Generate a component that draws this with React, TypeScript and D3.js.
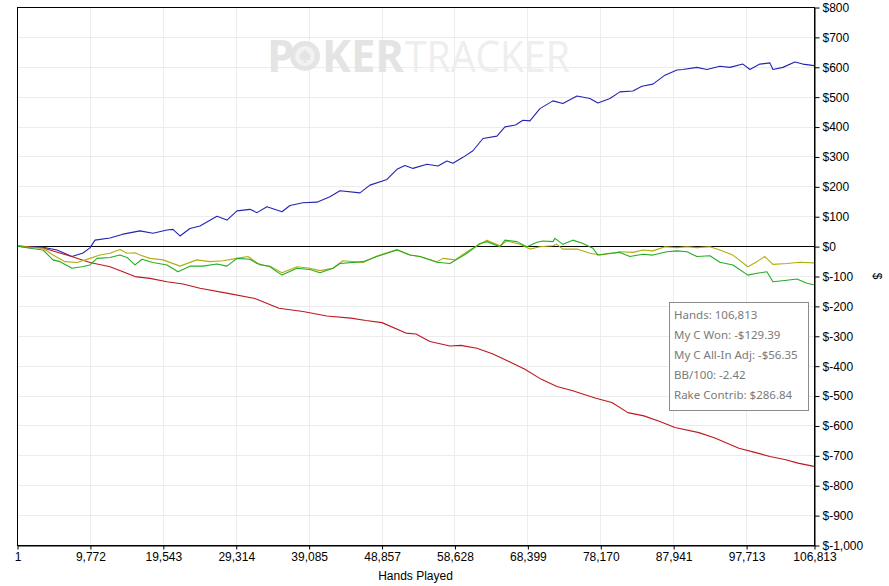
import React, { useEffect, useRef } from 'react';
import * as d3 from 'd3';

// [hands, dollars]
const netWon: [number, number][] = [
  [1, 0], [1742, -2], [3484, -4], [5360, -13], [7370, -35], [8844, -23], [9782, -6], [10452, 20],
  [12462, 27], [14204, 40], [16482, 51], [18224, 43], [20100, 54], [20904, 56], [21842, 34],
  [23182, 59], [24522, 67], [26800, 100], [28140, 87], [29480, 118], [31222, 123], [32160, 112],
  [33500, 132], [35510, 115], [36582, 136], [38324, 145], [40200, 147], [41942, 165], [43282, 185],
  [45962, 178], [47302, 204], [49580, 223], [50920, 257], [51992, 270], [53064, 260], [54940, 274],
  [56414, 268], [57620, 285], [58424, 277], [59764, 297], [61104, 319], [62444, 360], [64320, 368],
  [65392, 399], [66800, 405], [67804, 421], [68742, 419], [70082, 460], [71824, 486], [73164, 477],
  [75040, 502], [76782, 494], [77854, 479], [79462, 494], [80802, 516], [82544, 519], [83750, 535],
  [85224, 542], [86832, 572], [88440, 589], [89244, 591], [91120, 598], [92460, 591], [94202, 602],
  [95542, 598], [97284, 609], [98222, 591], [99562, 609], [100902, 613], [101304, 591], [102644, 598],
  [104252, 616], [105324, 609], [106813, 604],
];

const rake: [number, number][] = [
  [1, 0], [3484, -6], [7102, -33], [9782, -55], [12462, -69], [14204, -86], [15812, -102],
  [17822, -108], [20100, -119], [22244, -127], [24522, -141], [28274, -158], [31892, -175],
  [35108, -208], [38324, -219], [41540, -234], [44756, -241], [46766, -249], [48910, -256],
  [52126, -291], [53466, -294], [55342, -319], [58022, -334], [59496, -332], [61640, -342],
  [63784, -361], [65928, -386], [68072, -412], [70216, -445], [72360, -470], [74370, -483],
  [77586, -509], [79730, -523], [81874, -557], [84018, -568], [86162, -587], [88172, -607],
  [91388, -624], [93532, -642], [96748, -676], [98892, -690], [100902, -704], [103046, -715],
  [104654, -726], [106813, -737],
];

const allInAdj: [number, number][] = [
  [1, 0], [1742, -4], [3484, -7], [4824, -30], [6432, -52], [8040, -55], [9782, -41], [11122, -30],
  [12462, -24], [13802, -11], [14740, -24], [15812, -22], [16482, -30], [17822, -41], [19564, -46],
  [21842, -67], [24120, -46], [25862, -52], [27604, -49], [29480, -41], [30954, -35], [32562, -63],
  [33902, -67], [35510, -89], [37520, -69], [39262, -74], [40602, -82], [42344, -74], [43684, -49],
  [46364, -55], [48240, -33], [50920, -11], [52662, -30], [54002, -35], [56280, -52], [57084, -41],
  [58692, -46], [60300, -19], [62042, 6], [62980, 20], [64722, 1], [65660, 17], [67402, 6],
  [68742, -10], [70082, -2], [71824, 1], [72360, 6], [73164, -10], [75040, -10], [76782, -24],
  [78122, -30], [79864, -24], [80802, -19], [82544, -21], [83884, -13], [85224, -16], [86832, -2],
  [88440, -5], [89780, -2], [91120, -5], [92862, -2], [94202, -13], [95944, -30], [97954, -69],
  [99160, -52], [100232, -35], [101304, -61], [103180, -58], [104922, -54], [106813, -56],
];

const won: [number, number][] = [
  [1, 0], [1742, -7], [3484, -13], [4824, -46], [5762, -52], [7370, -74], [8710, -69], [9782, -63],
  [10720, -41], [12462, -38], [13802, -30], [14740, -38], [15812, -63], [16750, -44], [18224, -55],
  [20100, -63], [21574, -86], [23182, -67], [24924, -67], [26800, -60], [28140, -67], [29480, -41],
  [31222, -44], [32160, -58], [33902, -69], [35510, -97], [37520, -74], [39262, -78], [40602, -89],
  [42344, -74], [43282, -58], [46364, -52], [48240, -35], [50920, -13], [52662, -30], [54002, -35],
  [56280, -54], [58022, -58], [60300, -24], [62042, 9], [62980, 15], [64722, -2], [65392, 20],
  [67000, 15], [68340, -2], [69680, 13], [70484, 17], [71824, 15], [72092, 26], [73164, 6],
  [74504, 20], [75844, 9], [77184, -7], [77854, -30], [79462, -24], [80802, -21], [82142, -35],
  [83884, -27], [85224, -30], [87100, -19], [88440, -16], [89780, -19], [91120, -35], [92862, -32],
  [94202, -54], [95944, -63], [97954, -97], [99160, -91], [100500, -86], [101304, -119],
  [103180, -114], [104520, -110], [105860, -124], [106813, -129],
];

const xTicks = [1, 9772, 19543, 29314, 39085, 48857, 58628, 68399, 78170, 87941, 97713, 106813];
const yTicks = d3.range(-1000, 801, 100);

const summaryLines = [
  'Hands: 106,813',
  'My C Won: -$129.39',
  'My C All-In Adj: -$56.35',
  'BB/100: -2.42',
  'Rake Contrib: $286.84',
];

const series = [
  { data: netWon, color: '#2424b4' },
  { data: rake, color: '#bc1820' },
  { data: allInAdj, color: '#b2ad12' },
  { data: won, color: '#24ad24' },
];

const W = 889;
const H = 586;

const App: React.FC = () => {
  const svgRef = useRef<SVGSVGElement>(null);

  useEffect(() => {
    document.body.style.margin = '0';
    if (!svgRef.current) return;
    const svg = d3.select(svgRef.current);
    svg.selectAll('*').remove();

    const left = 17, right = 814, top = 7, bottom = 545;
    const x = d3.scaleLinear().domain([1, 106813]).range([left, right]);
    const y = d3.scaleLinear().domain([-1000, 800]).range([bottom, top]);

    svg.append('rect').attr('width', W).attr('height', H).attr('fill', '#fff');

    // grid
    const grid = svg.append('g').attr('stroke', '#ececec').attr('stroke-width', 1);
    yTicks.forEach((v) => {
      grid.append('line')
        .attr('x1', left).attr('x2', right)
        .attr('y1', Math.round(y(v)) + 0.5).attr('y2', Math.round(y(v)) + 0.5);
    });
    xTicks.forEach((v) => {
      grid.append('line')
        .attr('x1', Math.round(x(v)) + 0.5).attr('x2', Math.round(x(v)) + 0.5)
        .attr('y1', top).attr('y2', bottom);
    });

    // watermark
    const wm = svg.append('g').attr('font-family', '"Open Sans", "Noto Sans", sans-serif').attr('font-size', 44);
    wm.append('text').attr('x', 267).attr('y', 72).attr('font-weight', 700).attr('fill', '#e4e4e4').text('P');
    const chip = wm.append('g').attr('transform', 'translate(305,56)');
    chip.append('circle').attr('r', 15).attr('fill', '#e4e4e4');
    chip.append('circle').attr('r', 10).attr('fill', '#f2f2f2');
    chip.append('path')
      .attr('d', 'M0,-7 C3,-3 7,-1 5,3 C4,5 1,5 0,3 L2,7 L-2,7 L0,3 C-1,5 -4,5 -5,3 C-7,-1 -3,-3 0,-7 Z')
      .attr('fill', '#e4e4e4');
    wm.append('text').attr('x', 322).attr('y', 72).attr('font-weight', 700).attr('fill', '#e4e4e4')
      .attr('textLength', 82).attr('lengthAdjust', 'spacingAndGlyphs').text('KER');
    wm.append('text').attr('x', 405).attr('y', 72).attr('fill', '#eeeeee')
      .attr('textLength', 165).attr('lengthAdjust', 'spacingAndGlyphs').text('TRACKER');

    // zero line
    svg.append('line')
      .attr('x1', left).attr('x2', right)
      .attr('y1', Math.round(y(0)) + 0.5).attr('y2', Math.round(y(0)) + 0.5)
      .attr('stroke', '#000').attr('stroke-width', 1);

    // series
    const line = d3.line<[number, number]>().x((d) => x(d[0])).y((d) => y(d[1]));
    series.forEach((s) => {
      svg.append('path')
        .datum(s.data)
        .attr('fill', 'none')
        .attr('stroke', s.color)
        .attr('stroke-width', 1.1)
        .attr('stroke-linejoin', 'round')
        .attr('d', line);
    });

    // frame
    svg.append('rect')
      .attr('x', left + 0.5).attr('y', top + 0.5)
      .attr('width', right - left).attr('height', bottom - top)
      .attr('fill', 'none').attr('stroke', '#000').attr('stroke-width', 1);

    // plain hyphen minus, like the reference
    const fmt = d3.formatLocale({ decimal: '.', thousands: ',', grouping: [3], currency: ['$', ''], minus: '-' }).format(',');
    const xAxis = svg.append('g')
      .attr('transform', `translate(0.5,${bottom + 0.5})`)
      .call(d3.axisBottom(x).tickValues(xTicks).tickFormat((d) => fmt(d as number)).tickSize(4).tickSizeOuter(0).tickPadding(3));
    const yAxis = svg.append('g')
      .attr('transform', `translate(${right + 0.5},0.5)`)
      .call(d3.axisRight(y).tickValues(yTicks).tickFormat((d) => '$' + fmt(d as number)).tickSize(5).tickSizeOuter(0).tickPadding(3));
    [xAxis, yAxis].forEach((a) => {
      a.selectAll('text').attr('font-family', '"Liberation Sans", Arial, sans-serif').attr('font-size', 12).attr('fill', '#000');
      a.selectAll('line').attr('stroke', '#000');
      a.select('.domain').attr('stroke', '#000');
    });

    svg.append('text')
      .attr('x', (left + right) / 2).attr('y', 580)
      .attr('text-anchor', 'middle')
      .attr('font-family', '"Liberation Sans", Arial, sans-serif').attr('font-size', 12)
      .text('Hands Played');
    svg.append('text')
      .attr('transform', `translate(873,${(top + bottom) / 2}) rotate(90)`)
      .attr('text-anchor', 'middle')
      .attr('font-family', '"Liberation Sans", Arial, sans-serif').attr('font-size', 12)
      .text('$');

    // summary box
    const box = svg.append('g');
    box.append('rect')
      .attr('x', 669.5).attr('y', 302.5).attr('width', 139).attr('height', 108)
      .attr('fill', '#fff').attr('stroke', '#8c8c8c');
    summaryLines.forEach((t, i) => {
      box.append('text')
        .attr('x', 674).attr('y', 319 + i * 20)
        .attr('font-family', '"Noto Sans", "Open Sans", sans-serif').attr('font-size', 11.5)
        .attr('fill', '#7a7a7a')
        .text(t);
    });
  }, []);

  return <svg ref={svgRef} width={W} height={H} style={{ display: 'block' }} />;
};

export default App;
